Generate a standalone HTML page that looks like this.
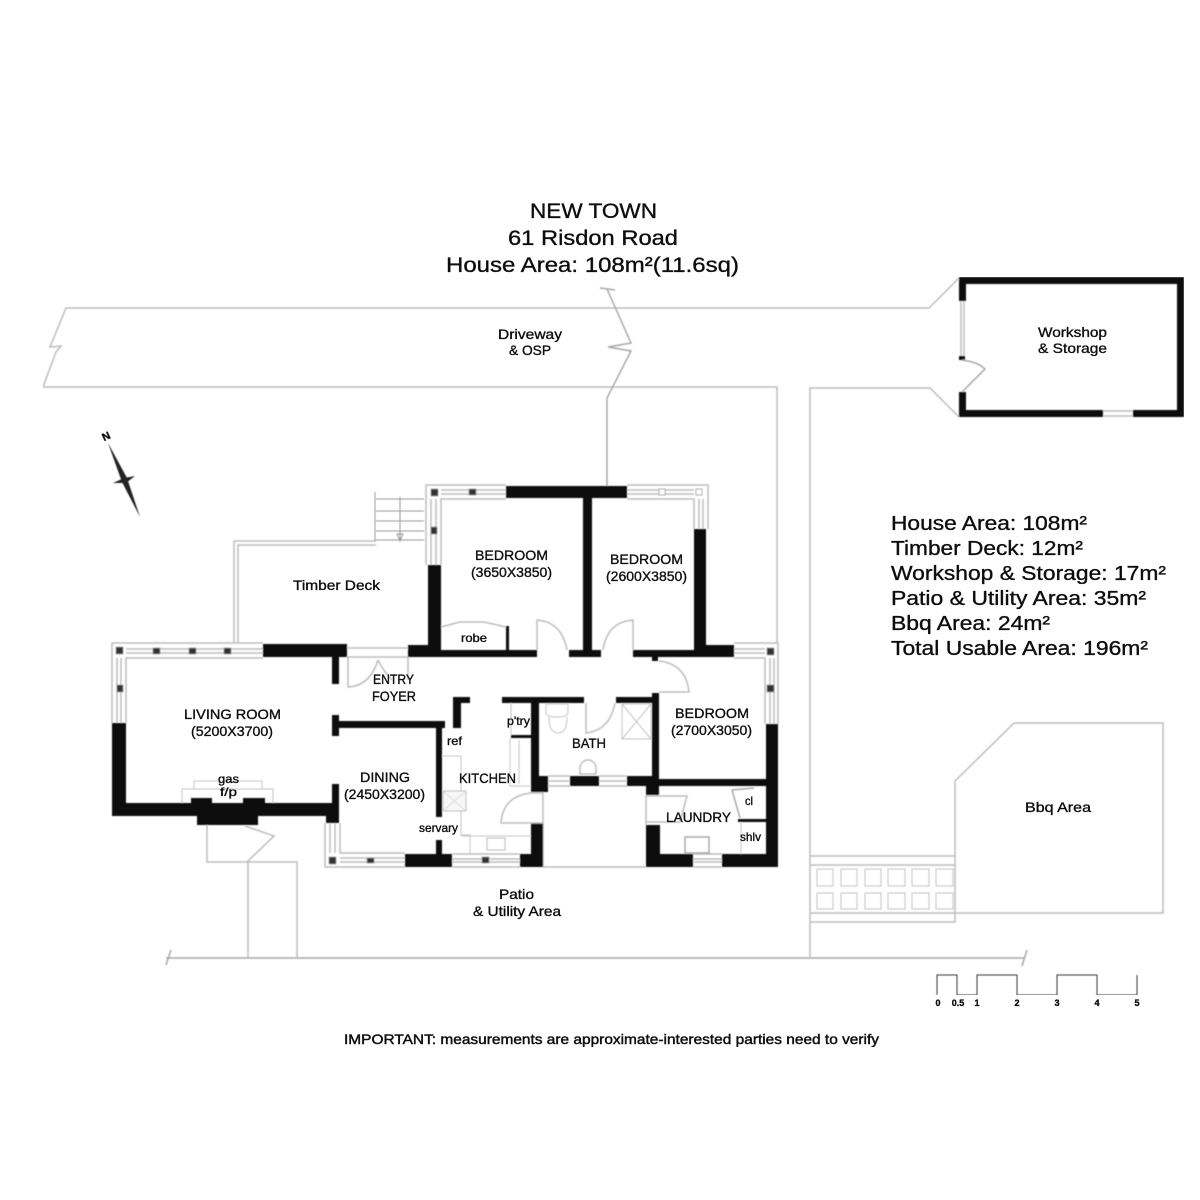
<!DOCTYPE html>
<html><head><meta charset="utf-8"><style>
html,body{margin:0;padding:0;background:#fff}
svg{display:block}
text{font-family:"Liberation Sans",sans-serif;fill:#111;stroke:#111;stroke-width:.35}
.g{fill:none;stroke:#bdbdbd;stroke-width:1.5}
.d{fill:none;stroke:#a8a8a8;stroke-width:1.5}
.t{fill:none;stroke:#c4c4c4;stroke-width:1}
.k{fill:#0a0a0a}
.p{fill:#333;stroke:#999;stroke-width:.7}
</style></head><body>
<svg width="1200" height="1200" viewBox="0 0 1200 1200" xmlns="http://www.w3.org/2000/svg">
<rect width="1200" height="1200" fill="#fff"/>
<defs>
<filter id="b" x="0" y="0" width="100%" height="100%"><feGaussianBlur stdDeviation="0.45"/></filter>
<filter id="c" x="0" y="0" width="100%" height="100%"><feGaussianBlur stdDeviation="0.3"/></filter>
</defs>
<g filter="url(#b)">

<!-- site lines -->
<path class="g" d="M929 308H66L50 347L61 346L56 352L43 387H777V643"/>
<path class="g" d="M810 957V388H930L959 417M929 308L959 278"/>
<path class="d" d="M600 288L615 290M607 289L631 343L608 347L631 351L607 398V486"/>
<path class="d" d="M166 958H1024M171 950L166 965M1027 950L1022 966"/>
<path class="g" d="M207 825V862H247L274 836L245 826M248 862V958M247 862H297V958"/>
<path class="g" d="M955 781L1014 723H1163V913H955M955 781V922H810M810 913H955M810 856H955M810 865H955"/>
<g class="t">
<rect x="817" y="869" width="16" height="17"/><rect x="841" y="869" width="16" height="17"/><rect x="865" y="869" width="16" height="17"/><rect x="888" y="869" width="17" height="17"/><rect x="912" y="869" width="17" height="17"/><rect x="936" y="869" width="17" height="17"/>
<rect x="817" y="893" width="16" height="16"/><rect x="841" y="893" width="16" height="16"/><rect x="865" y="893" width="16" height="16"/><rect x="888" y="893" width="17" height="16"/><rect x="912" y="893" width="17" height="16"/><rect x="936" y="893" width="17" height="16"/>
</g>

<!-- deck and stairs -->
<path class="g" d="M234 643V541H376M238 643V545H376"/>
<path fill="none" stroke="#999" stroke-width="1" d="M375 492V541M376 499H424M376 511H424M376 521H424M376 531H424M376 540H424M400 497V541M397 534L400 541L403 534Z"/>

<!-- window & light outlines -->
<path class="g" d="M263 643H112V723M263 658H126V723M126 649H263M126 653H263M117 658V723M121 658V723"/>
<path class="g" d="M405 867H325V823M405 853H340V823M340 858H405M340 862H405M330 823V853M335 823V853"/>
<path class="g" d="M506 485H426V565M506 499H441V565M441 490H506M441 494H506M431 499V565M436 499V565"/>
<path class="g" d="M627 485H708V529M627 499H694V529M627 490H694M627 494H694M699 499V529M703 499V529"/>
<path class="g" d="M734 643H778V724M734 658H765V724M734 649H765M734 653H765M770 658V724M774 658V724"/>
<path class="g" d="M347 648H408M347 657H408"/>
<path class="g" d="M452 854H520M452 867H520M452 859H520M452 862H520"/>
<path class="g" d="M693 854H722M693 867H722M693 859H722M693 862H722"/>
<path class="g" d="M548 776H570M548 786H570M548 781H570M599 776H627M599 786H627M599 781H627"/>
<path class="g" d="M543 792V867H646M646 795V825"/>

<!-- posts -->
<g class="p">
<rect x="116" y="647" width="7" height="7"/><rect x="153" y="648" width="7" height="6"/><rect x="189" y="648" width="7" height="6"/><rect x="224" y="648" width="7" height="6"/><rect x="117" y="685" width="6" height="7"/>
<rect x="329" y="857" width="7" height="7"/><rect x="367" y="858" width="7" height="5"/>
<rect x="431" y="489" width="7" height="7"/><rect x="469" y="489" width="7" height="6"/><rect x="431" y="527" width="6" height="7"/>
<rect x="767" y="648" width="7" height="7"/><rect x="767" y="685" width="7" height="7"/><rect x="482" y="857" width="7" height="6"/>
</g>
<rect x="659" y="489" width="6" height="6" fill="#fff" stroke="#aaa"/><rect x="696" y="489" width="6" height="6" fill="#fff" stroke="#aaa"/>

<!-- walls -->
<g class="k">
<rect x="112" y="723" width="14" height="93"/><rect x="112" y="803" width="220" height="13"/>
<rect x="191" y="798" width="21" height="18"/><rect x="243" y="798" width="22" height="18"/><rect x="197" y="812" width="61" height="13"/>
<rect x="263" y="644" width="84" height="13"/><rect x="332" y="657" width="7" height="27"/>
<rect x="332" y="715" width="7" height="21"/><rect x="339" y="721" width="106" height="7"/>
<rect x="332" y="784" width="7" height="39"/><rect x="326" y="803" width="13" height="20"/>
<rect x="405" y="854" width="47" height="13"/>
<rect x="408" y="650" width="129" height="7"/><rect x="408" y="645" width="33" height="12"/>
<rect x="428" y="565" width="13" height="85"/><rect x="506" y="626" width="3" height="24"/>
<rect x="506" y="486" width="121" height="12"/><rect x="583" y="498" width="9" height="152"/>
<rect x="569" y="650" width="32" height="7"/><rect x="633" y="650" width="101" height="7"/>
<rect x="694" y="645" width="40" height="12"/><rect x="694" y="529" width="12" height="116"/>
<rect x="652" y="657" width="6" height="4"/>
<rect x="766" y="724" width="12" height="143"/><rect x="652" y="693" width="7" height="100"/>
<rect x="659" y="779" width="107" height="7"/><rect x="646" y="777" width="13" height="18"/>
<rect x="646" y="825" width="14" height="42"/><rect x="646" y="854" width="47" height="13"/><rect x="722" y="854" width="56" height="13"/>
<rect x="738" y="819" width="28" height="3"/>
<rect x="502" y="697" width="82" height="6"/><rect x="616" y="697" width="36" height="6"/>
<rect x="531" y="703" width="8" height="89"/><rect x="531" y="776" width="17" height="16"/>
<rect x="570" y="776" width="29" height="10"/><rect x="627" y="776" width="25" height="10"/>
<rect x="531" y="823" width="12" height="44"/><rect x="520" y="854" width="23" height="13"/>
<rect x="436" y="728" width="6" height="89"/><rect x="436" y="840" width="6" height="15"/>
<rect x="453" y="697" width="8" height="31"/><rect x="453" y="697" width="17" height="6"/>
<rect x="511" y="735" width="20" height="3"/>
</g>

<!-- doors & fixtures -->
<path class="g" d="M348 657V687Q370 686 378 660M408 657V680M378 660Q384 672 392 680"/>
<path class="g" d="M537 650V620Q562 622 567 650M633 650V620Q607 622 603 650"/>
<path class="g" d="M441 627L460 622L484 622L506 627"/>
<path class="g" d="M659 661Q686 664 689 692H659"/>
<path class="g" d="M586 703V733Q610 730 615 703"/>
<path class="g" d="M543 823H501Q503 796 531 793H543"/>
<path class="g" d="M646 796H687L680 822H646"/>
<path class="d" d="M732 790L754 788M732 790L740 818"/>
<path class="t" d="M741 822V854"/>
<path class="t" d="M546 704H568V712Q568 717 557 717Q546 717 546 712ZM549 717Q549 733 558 733Q567 733 567 717"/>
<path class="t" d="M622 704H651V739H622ZM622 704L651 739M651 704L622 739"/>
<path class="g" d="M580 774V768A8 8 0 0 1 596 768V774Z"/>
<path class="t" d="M442 756H461V835H470V854M461 836H531M510 738V786H531M519 740V784M511 703V735"/>
<rect x="443" y="791" width="23" height="20" fill="#f7f7f7" stroke="#bbb"/>
<path fill="none" stroke="#ddd" stroke-width="1" d="M443 791L466 811M466 791L443 811"/>
<rect x="487" y="838" width="18" height="12" fill="none" stroke="#bbb"/>
<rect x="685" y="837" width="24" height="16" fill="none" stroke="#aaa" stroke-width="1.5"/>
<path class="t" d="M194 789V781H262V789M182 803V789H273V803"/>

<!-- workshop -->
<g class="k">
<rect x="959" y="277" width="225" height="7"/><rect x="1177" y="277" width="7" height="140"/>
<rect x="959" y="277" width="7" height="24"/><rect x="959" y="356" width="6" height="4"/>
<rect x="959" y="392" width="7" height="25"/><rect x="959" y="410" width="144" height="7"/><rect x="1133" y="410" width="51" height="7"/>
</g>
<path class="g" d="M961 301V356M964 301V356M1103 411H1133M1103 416H1133"/>
<path class="d" d="M962 360Q978 362 985 369L962 392"/>

<!-- north -->
<path d="M108 443L127 478L140 517L122 482Z" fill="#222"/>
<path d="M113 483L124 478L135 476L126 483Z" fill="#222"/>

<!-- scale -->
<path fill="none" stroke="#333" stroke-width="1" d="M937 995V975H957V995H977V975H1017V995H1057V975H1097V995H1137V975"/>
</g>

<!-- text -->
<g text-anchor="start" filter="url(#c)">
<text x="530" y="218" font-size="21" textLength="127" lengthAdjust="spacingAndGlyphs">NEW TOWN</text>
<text x="508" y="245" font-size="21" textLength="170" lengthAdjust="spacingAndGlyphs">61 Risdon Road</text>
<text x="446" y="272" font-size="21" textLength="293" lengthAdjust="spacingAndGlyphs">House Area: 108m²(11.6sq)</text>

<text x="891" y="530" font-size="20" textLength="196" lengthAdjust="spacingAndGlyphs">House Area: 108m²</text>
<text x="891" y="555" font-size="20" textLength="192" lengthAdjust="spacingAndGlyphs">Timber Deck: 12m²</text>
<text x="891" y="580" font-size="20" textLength="275" lengthAdjust="spacingAndGlyphs">Workshop &amp; Storage: 17m²</text>
<text x="891" y="605" font-size="20" textLength="255" lengthAdjust="spacingAndGlyphs">Patio &amp; Utility Area: 35m²</text>
<text x="891" y="630" font-size="20" textLength="159" lengthAdjust="spacingAndGlyphs">Bbq Area: 24m²</text>
<text x="891" y="655" font-size="20" textLength="257" lengthAdjust="spacingAndGlyphs">Total Usable Area: 196m²</text>

<g font-size="14">
<text x="498" y="339" textLength="64" lengthAdjust="spacingAndGlyphs">Driveway</text>
<text x="509" y="355" textLength="42" lengthAdjust="spacingAndGlyphs">&amp; OSP</text>
<text x="1038" y="337" textLength="69" lengthAdjust="spacingAndGlyphs">Workshop</text>
<text x="1038" y="353" textLength="69" lengthAdjust="spacingAndGlyphs">&amp; Storage</text>
<text x="293" y="590" textLength="87" lengthAdjust="spacingAndGlyphs">Timber Deck</text>
<text x="475" y="560" textLength="73" lengthAdjust="spacingAndGlyphs">BEDROOM</text>
<text x="471" y="577" textLength="81" lengthAdjust="spacingAndGlyphs">(3650X3850)</text>
<text x="610" y="564" textLength="73" lengthAdjust="spacingAndGlyphs">BEDROOM</text>
<text x="606" y="581" textLength="81" lengthAdjust="spacingAndGlyphs">(2600X3850)</text>
<text x="184" y="719" textLength="97" lengthAdjust="spacingAndGlyphs">LIVING ROOM</text>
<text x="191" y="736" textLength="82" lengthAdjust="spacingAndGlyphs">(5200X3700)</text>
<text x="373" y="684" textLength="41" lengthAdjust="spacingAndGlyphs">ENTRY</text>
<text x="372" y="701" textLength="44" lengthAdjust="spacingAndGlyphs">FOYER</text>
<text x="360" y="782" textLength="50" lengthAdjust="spacingAndGlyphs">DINING</text>
<text x="344" y="799" textLength="81" lengthAdjust="spacingAndGlyphs">(2450X3200)</text>
<text x="459" y="783" textLength="57" lengthAdjust="spacingAndGlyphs">KITCHEN</text>
<text x="572" y="748" textLength="34" lengthAdjust="spacingAndGlyphs">BATH</text>
<text x="675" y="718" textLength="74" lengthAdjust="spacingAndGlyphs">BEDROOM</text>
<text x="671" y="735" textLength="81" lengthAdjust="spacingAndGlyphs">(2700X3050)</text>
<text x="666" y="822" textLength="65" lengthAdjust="spacingAndGlyphs">LAUNDRY</text>
<text x="499" y="899" textLength="35" lengthAdjust="spacingAndGlyphs">Patio</text>
<text x="473" y="916" textLength="88" lengthAdjust="spacingAndGlyphs">&amp; Utility Area</text>
<text x="1025" y="812" textLength="66" lengthAdjust="spacingAndGlyphs">Bbq Area</text>
<text x="344" y="1044" textLength="535" lengthAdjust="spacingAndGlyphs" style="stroke-width:.45">IMPORTANT: measurements are approximate-interested parties need to verify</text>
</g>
<g font-size="12">
<text x="461" y="642" textLength="26" lengthAdjust="spacingAndGlyphs">robe</text>
<text x="218" y="783" textLength="21" lengthAdjust="spacingAndGlyphs">gas</text>
<text x="220" y="796" textLength="17" lengthAdjust="spacingAndGlyphs">f/p</text>
<text x="447" y="745" textLength="15" lengthAdjust="spacingAndGlyphs">ref</text>
<text x="507" y="725" textLength="23" lengthAdjust="spacingAndGlyphs">p'try</text>
<text x="419" y="832" textLength="39" lengthAdjust="spacingAndGlyphs">servary</text>
<text x="745" y="805" textLength="8" lengthAdjust="spacingAndGlyphs">cl</text>
<text x="740" y="841" textLength="21" lengthAdjust="spacingAndGlyphs">shlv</text>
</g>
<g font-size="9" font-weight="bold" text-anchor="middle">
<text x="938" y="1006">0</text><text x="958" y="1006">0.5</text><text x="977" y="1006">1</text><text x="1017" y="1006">2</text><text x="1057" y="1006">3</text><text x="1097" y="1006">4</text><text x="1137" y="1006">5</text>
</g>
<text x="106" y="440" font-size="11" font-weight="bold" text-anchor="middle" transform="rotate(-25 106 436)">N</text>
</g>
</svg>
</body></html>
